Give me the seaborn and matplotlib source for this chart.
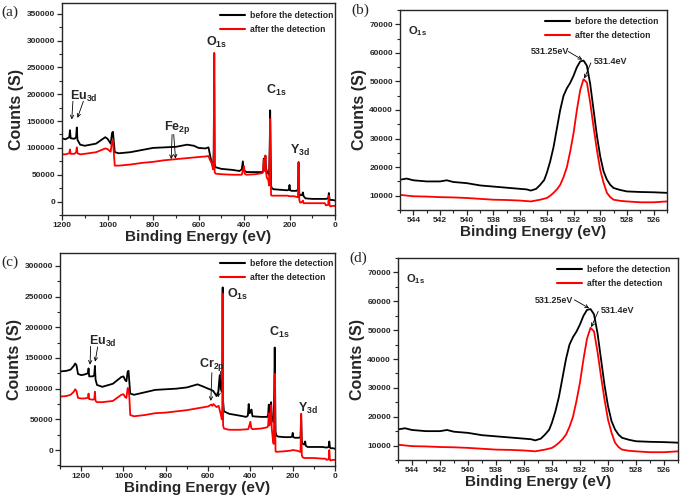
import matplotlib
matplotlib.use("Agg")
import matplotlib.pyplot as plt
import seaborn as sns
import pandas as pd
from matplotlib.ticker import MultipleLocator, AutoMinorLocator

sns.set_style("ticks")
plt.rcParams['font.family'] = ['Liberation Sans', 'DejaVu Sans']
plt.rcParams['mathtext.fontset'] = 'custom'
plt.rcParams['mathtext.rm'] = 'Liberation Sans:bold'
plt.rcParams['mathtext.bf'] = 'Liberation Sans:bold'
plt.rcParams['mathtext.it'] = 'Liberation Sans:bold'

# ---------------- data ----------------
# (a) survey spectrum
a_before_x = [1200, 1185, 1168, 1165, 1162, 1145, 1138, 1135, 1132, 1120, 1100, 1050, 1010, 1000, 992, 986, 980, 976, 972, 968, 950, 900, 850, 800, 750, 700, 650, 620, 600, 570, 556, 550, 540, 535, 533, 531, 529, 525, 500, 450, 420, 410, 405, 402, 398, 390, 350, 320, 316, 313, 310, 306, 303, 300, 293, 290, 287, 285, 283, 281, 278, 270, 240, 210, 203, 200, 197, 190, 170, 163, 160, 157, 153, 145, 141, 138, 130, 100, 60, 40, 30, 27, 24, 21, 10, 0]
a_before_y = [118000, 116000, 120000, 133000, 118000, 117000, 120000, 138000, 115000, 106000, 104000, 108000, 120000, 117000, 112000, 108000, 128000, 130000, 110000, 92000, 90000, 92000, 96000, 100000, 101000, 102000, 106000, 104000, 100000, 99000, 101000, 88000, 68000, 70000, 95000, 276000, 70000, 64000, 61000, 59000, 57000, 60000, 75000, 60000, 58000, 55000, 55000, 55000, 56000, 80000, 60000, 85000, 62000, 57000, 52000, 50000, 100000, 170000, 100000, 30000, 25000, 23000, 22000, 21000, 22000, 31000, 21000, 20000, 20000, 22000, 72000, 15000, 12000, 12000, 17000, 10000, 6000, 5000, 5000, 5000, 6000, 16000, 5000, 3000, 3000, 2000]
a_after_x = [1200, 1185, 1168, 1165, 1162, 1145, 1138, 1135, 1132, 1120, 1100, 1050, 1010, 1000, 992, 986, 980, 976, 972, 968, 950, 900, 850, 800, 750, 700, 650, 600, 570, 556, 550, 542, 536, 533, 531, 529, 525, 500, 450, 410, 400, 397, 390, 350, 320, 316, 313, 310, 306, 303, 300, 293, 290, 287, 285, 283, 281, 278, 240, 210, 200, 180, 163, 160, 157, 153, 145, 141, 138, 130, 100, 60, 45, 40, 30, 27, 24, 21, 10, 0]
a_after_y = [88000, 88000, 90000, 97000, 89000, 89000, 92000, 101000, 90000, 88000, 89000, 92000, 99000, 98000, 95000, 93000, 113000, 115000, 90000, 67000, 67000, 69000, 72000, 74000, 77000, 79000, 81000, 83000, 84000, 85000, 78000, 72000, 60000, 80000, 277000, 55000, 52000, 51000, 50000, 50000, 66000, 52000, 50000, 51000, 53000, 55000, 78000, 57000, 86000, 55000, 45000, 40000, 30000, 90000, 154000, 60000, 12000, 11000, 11000, 11000, 10000, 10000, 8000, 74000, 3000, -2000, -1000, 2000, -3000, -3000, -3000, -3000, -3000, -7000, -6000, 11000, -6000, -9000, -8000, -8000]

# (c) survey spectrum
c_before_x = [1300, 1270, 1250, 1235, 1228, 1222, 1215, 1200, 1185, 1168, 1165, 1162, 1145, 1138, 1135, 1132, 1125, 1100, 1050, 1010, 1000, 992, 986, 980, 976, 972, 968, 950, 900, 850, 800, 750, 700, 650, 620, 600, 585, 575, 560, 552, 545, 540, 535, 533, 531, 529, 525, 500, 450, 420, 412, 408, 404, 398, 395, 390, 350, 320, 316, 313, 310, 306, 302, 299, 293, 290, 287, 285, 283, 281, 278, 270, 240, 210, 203, 200, 197, 190, 170, 163, 160, 157, 153, 145, 141, 138, 130, 100, 60, 40, 30, 27, 24, 21, 10, 0]
c_before_y = [128000, 129000, 131000, 137000, 141000, 138000, 124000, 122000, 123000, 125000, 133000, 120000, 120000, 122000, 137000, 115000, 106000, 103000, 108000, 119000, 120000, 114000, 112000, 128000, 129000, 110000, 92000, 90000, 94000, 98000, 99000, 100000, 102000, 107000, 103000, 100000, 98000, 96000, 88000, 94000, 122000, 100000, 95000, 120000, 265000, 80000, 63000, 59000, 56000, 54000, 56000, 75000, 60000, 62000, 66000, 55000, 54000, 54000, 58000, 74000, 58000, 70000, 78000, 55000, 50000, 45000, 100000, 167000, 100000, 30000, 24000, 22000, 21000, 21000, 22000, 28000, 21000, 20000, 20000, 21000, 58000, 15000, 10000, 9000, 14000, 7000, 5000, 5000, 5000, 4000, 5000, 14000, 5000, 3000, 3000, 2000]
c_after_x = [1300, 1270, 1250, 1235, 1228, 1222, 1215, 1200, 1185, 1168, 1165, 1162, 1145, 1138, 1135, 1132, 1125, 1100, 1050, 1010, 1000, 992, 986, 980, 976, 972, 968, 950, 900, 850, 800, 750, 700, 650, 600, 585, 580, 575, 560, 550, 545, 540, 535, 533, 531, 529, 525, 500, 450, 410, 400, 396, 390, 350, 320, 316, 313, 310, 306, 302, 299, 293, 290, 287, 285, 283, 281, 278, 240, 210, 200, 180, 163, 160, 157, 153, 145, 100, 60, 45, 40, 30, 27, 24, 21, 10, 0]
c_after_y = [87000, 88000, 90000, 95000, 99000, 96000, 85000, 84000, 84000, 85000, 92000, 83000, 82000, 83000, 95000, 80000, 78000, 78000, 80000, 90000, 91000, 86000, 85000, 101000, 100000, 85000, 57000, 55000, 57000, 60000, 61000, 63000, 65000, 68000, 71000, 74000, 72000, 75000, 70000, 72000, 65000, 58000, 50000, 70000, 255000, 40000, 35000, 33000, 33000, 34000, 46000, 36000, 34000, 35000, 37000, 40000, 60000, 40000, 55000, 73000, 35000, 15000, 10000, 60000, 124000, 40000, -2000, -3000, -2000, -1000, 0, -1000, -3000, 59000, -8000, -12000, -13000, -13000, -14000, -14000, -16000, -15000, 0, -16000, -17000, -16000, -16000]

# (b), (d) O1s high resolution spectra
o_before_x = [545, 544.5, 544, 543, 542, 541.5, 541, 540, 539, 538, 537, 536, 535.5, 535.2, 534.8, 534.5, 534.2, 534, 533.75, 533.5, 533.25, 533, 532.75, 532.5, 532.25, 532, 531.75, 531.5, 531.25, 531, 530.75, 530.5, 530.25, 530, 529.75, 529.5, 529.25, 529, 528.5, 528, 527, 526, 525]
o_before_y = [15600, 16000, 15400, 15000, 15000, 15400, 14800, 14400, 13600, 13200, 12800, 12400, 12200, 11800, 12400, 13800, 15500, 18000, 22000, 27000, 33500, 40000, 45000, 47600, 49500, 52000, 55000, 57000, 57300, 55500, 49000, 40000, 31000, 23700, 18500, 15600, 13800, 12700, 12000, 11500, 11300, 11200, 11000]
o_after_x = [545, 544, 543, 542, 541, 540, 539, 538, 537, 536, 535.2, 534.5, 534, 533.75, 533.5, 533.25, 533, 532.75, 532.5, 532.25, 532, 531.75, 531.5, 531.25, 531, 530.75, 530.5, 530.25, 530, 529.75, 529.5, 529.25, 529, 528.5, 528, 527, 526, 525]
o_after_y = [10300, 9800, 9700, 9500, 9400, 9200, 8900, 8600, 8500, 8300, 8000, 8600, 9200, 10000, 11000, 12200, 13800, 16500, 20000, 25500, 31900, 40000, 47000, 50800, 49600, 42500, 34000, 26000, 19000, 14500, 11000, 9500, 8600, 8200, 8000, 7700, 7700, 8000]

series_labels = ["before the detection", "after the detection"]
series_colors = ["black", "#ff0000"]

# ---------------- figure ----------------
fig = plt.figure(figsize=(6.8, 5.01), dpi=100)
W, H = 680, 501
def axes_px(l, t, r, b):
    return fig.add_axes([l / W, 1 - b / H, (r - l) / W, (b - t) / H])

ax_a = axes_px(62, 3, 335, 215)
ax_b = axes_px(400, 10, 667, 210)
ax_c = axes_px(60, 253, 335, 466)
ax_d = axes_px(398, 258, 678, 460)

TICK_FS = 6.0
LABEL_FS = 11

def draw(ax, xs, ys):
    for x, y, lab, col in zip(xs, ys, series_labels, series_colors):
        df = pd.DataFrame({"E": x, "C": y})
        sns.lineplot(data=df, x="E", y="C", ax=ax, color=col, label=lab,
                     estimator=None, sort=False, linewidth=1.3)

def style(ax, xlim, ylim, xmaj, ymaj, leg_dx, leg_dy):
    ax.set_xlim(*xlim)
    ax.set_ylim(*ylim)
    ax.xaxis.set_major_locator(MultipleLocator(xmaj))
    ax.xaxis.set_minor_locator(AutoMinorLocator(2))
    ax.yaxis.set_major_locator(MultipleLocator(ymaj))
    ax.yaxis.set_minor_locator(AutoMinorLocator(2))
    ax.tick_params(which='major', direction='out', length=3.5, width=0.9,
                   labelsize=TICK_FS, pad=1.5)
    ax.tick_params(which='minor', direction='out', length=2, width=0.8)
    for lab in ax.get_xticklabels() + ax.get_yticklabels():
        lab.set_fontweight('bold')
    for sp in ax.spines.values():
        sp.set_visible(True)
        sp.set_linewidth(1.0)
    ax.set_xlabel("Binding Energy (eV)", fontsize=LABEL_FS, fontweight='bold', labelpad=1)
    ax.set_ylabel("Counts (S)", fontsize=LABEL_FS + 0.5, fontweight='bold', labelpad=2)
    bb = ax.get_position()
    ax_w = bb.width * W
    ax_h = bb.height * H
    leg = ax.legend(loc='upper right', frameon=False,
                    bbox_to_anchor=(1 - leg_dx / ax_w, 1 - leg_dy / ax_h),
                    handlelength=2.9, handletextpad=0.5, labelspacing=0.6,
                    borderaxespad=0, borderpad=0,
                    prop={'weight': 'bold', 'size': 6.2})
    for line in leg.get_lines():
        line.set_linewidth(1.5)

draw(ax_a, [a_before_x, a_after_x], [a_before_y, a_after_y])
style(ax_a, (1200, 0), (-25000, 370000), 200, 50000, 2, 8)
draw(ax_c, [c_before_x, c_after_x], [c_before_y, c_after_y])
style(ax_c, (1300, 0), (-26000, 321000), 200, 50000, 2, 6)
draw(ax_b, [o_before_x, o_after_x], [o_before_y, o_after_y])
style(ax_b, (545, 525), (5000, 75000), 2, 10000, 9, 7)
draw(ax_d, [o_before_x, o_after_x], [o_before_y, o_after_y])
style(ax_d, (545, 525), (5000, 75000), 2, 10000, 8, 7)

arrow = dict(arrowstyle='->', color='black', lw=0.6, shrinkA=0, shrinkB=0,
             mutation_scale=6)
PK = 9

# (a) annotations
ax_a.text(1165, 189000, r"Eu$_{\mathbf{3d}}$", fontsize=PK, fontweight='bold')
ax_a.annotate("", xy=(1157, 153000), xytext=(1152, 187000), arrowprops=arrow)
ax_a.annotate("", xy=(1132, 156000), xytext=(1106, 187000), arrowprops=arrow)
ax_a.text(752, 133000, r"Fe$_{\mathbf{2p}}$", fontsize=PK, fontweight='bold')
ax_a.annotate("", xy=(720, 79000), xytext=(716, 125000), arrowprops=arrow)
ax_a.annotate("", xy=(701, 80000), xytext=(709, 125000), arrowprops=arrow)
ax_a.text(568, 290000, r"O$_{\mathbf{1s}}$", fontsize=PK, fontweight='bold')
ax_a.text(305, 200000, r"C$_{\mathbf{1s}}$", fontsize=PK, fontweight='bold')
ax_a.text(196, 89000, r"Y$_{\mathbf{3d}}$", fontsize=PK, fontweight='bold')

# (c) annotations
ax_c.text(1165, 171000, r"Eu$_{\mathbf{3d}}$", fontsize=PK, fontweight='bold')
ax_c.annotate("", xy=(1158, 139000), xytext=(1155, 169000), arrowprops=arrow)
ax_c.annotate("", xy=(1134, 144000), xytext=(1122, 168000), arrowprops=arrow)
ax_c.text(645, 135000, r"Cr$_{\mathbf{2p}}$", fontsize=PK, fontweight='bold')
ax_c.annotate("", xy=(587, 80000), xytext=(582, 126000), arrowprops=arrow)
ax_c.annotate("", xy=(552, 86000), xytext=(541, 128000), arrowprops=arrow)
ax_c.text(510, 248000, r"O$_{\mathbf{1s}}$", fontsize=PK, fontweight='bold')
ax_c.text(314, 186000, r"C$_{\mathbf{1s}}$", fontsize=PK, fontweight='bold')
ax_c.text(177, 62000, r"Y$_{\mathbf{3d}}$", fontsize=PK, fontweight='bold')

# (b), (d) annotations
for ax in (ax_b, ax_d):
    ax.text(0.03, 0.93, r"O$_{\mathbf{1s}}$", transform=ax.transAxes,
            fontsize=8, fontweight='bold', va='top')
    ax.text(535.2, 59500, "531.25eV", fontsize=6.5, fontweight='bold')
    ax.annotate("", xy=(531.35, 57600), xytext=(532.4, 60500), arrowprops=arrow)
    ax.text(530.5, 56000, "531.4eV", fontsize=6.5, fontweight='bold')
    ax.annotate("", xy=(531.2, 51000), xytext=(530.7, 56500), arrowprops=arrow)

# panel labels
for lab, (x, y) in zip(["(a)", "(b)", "(c)", "(d)"],
                       [(1, 6), (351, 4), (1, 256), (349, 252)]):
    fig.text(x / W, 1 - y / H, lab, fontsize=11, family='Liberation Serif',
             va='top', ha='left')

fig.savefig("out.png", dpi=100)
